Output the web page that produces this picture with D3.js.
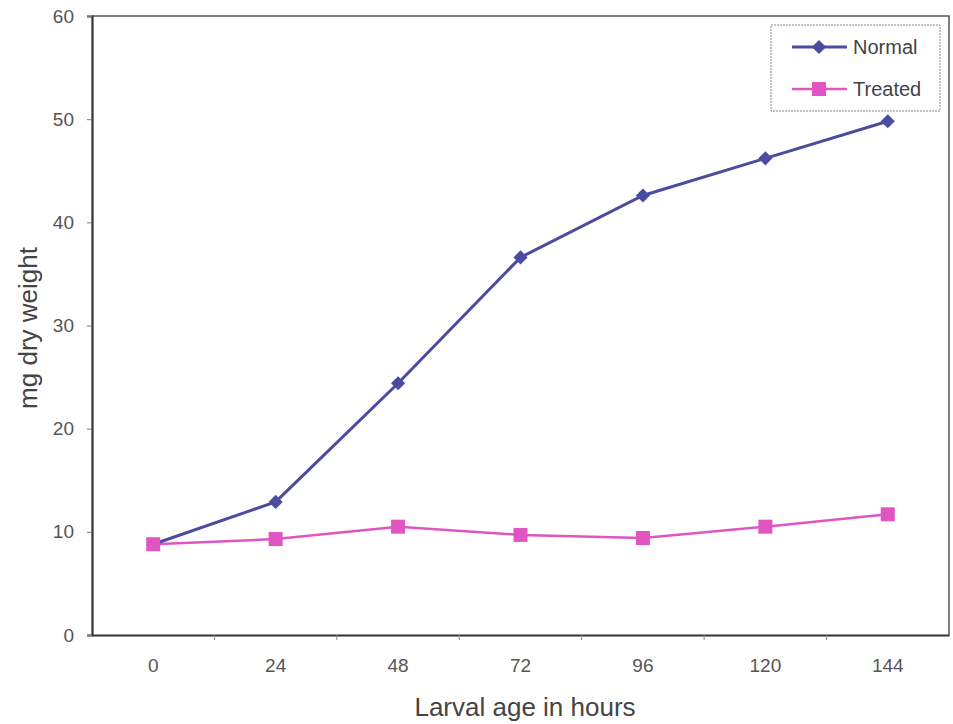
<!DOCTYPE html>
<html><head><meta charset="utf-8">
<script src="https://cdn.jsdelivr.net/npm/d3@7"></script>
<style>body{margin:0;background:#fff;}svg{display:block;font-family:"Liberation Sans",Arial,sans-serif;}</style>
</head><body>
<svg id="c" width="953" height="724"></svg>
<script>
const categories = ["0","24","48","72","96","120","144"];
const normalValues = [8.8, 12.9, 24.4, 36.6, 42.6, 46.2, 49.8];
const treatedValues = [8.8, 9.3, 10.5, 9.7, 9.4, 10.5, 11.7];
const yTicks = [0,10,20,30,40,50,60];
const seriesNames = ["Normal","Treated"];

const svg = d3.select("#c");
const L=92, R=949, T=16, B=635;
const x = d3.scaleBand().domain(categories).range([L,R]);
const y = d3.scaleLinear().domain([0,60]).range([B,T]);
const cx = d => x(d)+x.bandwidth()/2;
const FF = "Liberation Sans, Arial, sans-serif";

// frame top/right
svg.append("path").attr("d",`M${L},${T}H${R}V${B}`).attr("fill","none").attr("stroke","#555").attr("stroke-width",1.5);

// y axis
const ya = svg.append("g").attr("transform",`translate(${L},0)`)
  .call(d3.axisLeft(y).tickValues(yTicks).tickSize(5).tickPadding(13));
ya.select(".domain").attr("stroke","#333").attr("stroke-width",2.2);
ya.selectAll(".tick line").attr("stroke","#777");
ya.selectAll("text").attr("font-size",19).attr("fill","#555").attr("font-family",FF);

// x axis
const xa = svg.append("g").attr("transform",`translate(0,${B})`)
  .call(d3.axisBottom(x).tickSize(0).tickPadding(24));
xa.select(".domain").attr("stroke","#333").attr("stroke-width",2.2);
xa.selectAll("text").attr("font-size",19).attr("fill","#555").attr("font-family",FF);
// boundary ticks
svg.append("g").selectAll("line").data(categories.slice(1)).join("line")
  .attr("x1",d=>x(d)).attr("x2",d=>x(d)).attr("y1",B).attr("y2",B+5)
  .attr("stroke","#888").attr("stroke-width",1);

// axis titles
svg.append("text").attr("x",525).attr("y",716).attr("text-anchor","middle")
  .attr("font-size",26).attr("fill","#444").text("Larval age in hours");
svg.append("text").attr("transform","translate(37,328) rotate(-90)").attr("text-anchor","middle")
  .attr("font-size",26).attr("fill","#444").text("mg dry weight");

const line = d3.line().x((d,i)=>cx(categories[i])).y(d=>y(d));
const cN="#4a4c9e", cT="#e055c2";

svg.append("path").datum(treatedValues).attr("d",line).attr("fill","none").attr("stroke",cT).attr("stroke-width",2.5);
svg.append("path").datum(normalValues).attr("d",line).attr("fill","none").attr("stroke",cN).attr("stroke-width",3);

const diamond = d3.symbol().type(d3.symbolSquare).size(100);
svg.append("g").selectAll("path").data(normalValues).join("path")
  .attr("d",diamond()).attr("fill",cN)
  .attr("transform",(d,i)=>`translate(${cx(categories[i])},${y(d)}) rotate(45)`);

svg.append("g").selectAll("rect").data(treatedValues).join("rect")
  .attr("x",(d,i)=>cx(categories[i])-7).attr("y",d=>y(d)-7)
  .attr("width",14).attr("height",14).attr("fill",cT);

// legend
const lg = svg.append("g");
lg.append("rect").attr("x",771).attr("y",25).attr("width",169).attr("height",86)
  .attr("fill","#fff").attr("stroke","#888").attr("stroke-width",1).attr("stroke-dasharray","2,1");
const ly = [47, 89];
const cols = [cN, cT];
seriesNames.forEach((n,i)=>{
  lg.append("line").attr("x1",792).attr("x2",847).attr("y1",ly[i]).attr("y2",ly[i])
    .attr("stroke",cols[i]).attr("stroke-width",i?2.5:3);
  if(i===0){
    lg.append("path").attr("d",diamond()).attr("fill",cN).attr("transform",`translate(819,${ly[i]}) rotate(45)`);
  } else {
    lg.append("rect").attr("x",812).attr("y",ly[i]-7).attr("width",14).attr("height",14).attr("fill",cT);
  }
  lg.append("text").attr("x",853).attr("y",ly[i]).attr("dy","0.35em")
    .attr("font-size",20).attr("fill","#444").text(n);
});
</script>
</body></html>
